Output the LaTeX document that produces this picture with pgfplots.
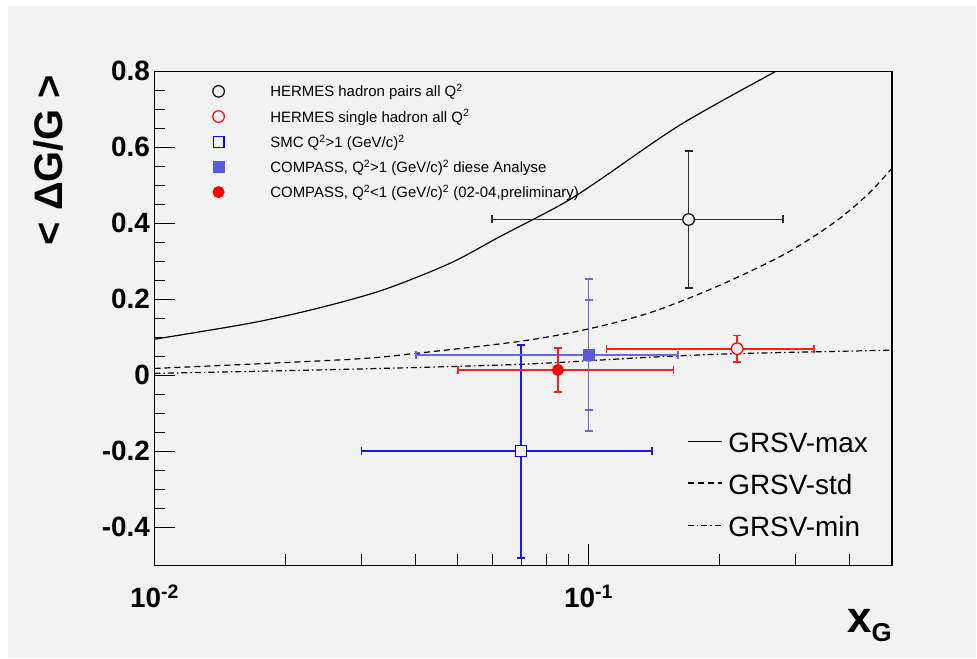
\documentclass[border=0pt]{standalone}
\usepackage{fontspec}
\setmainfont{Liberation Sans}
\usepackage{pgfplots}
\pgfplotsset{compat=1.18}
\definecolor{bggray}{RGB}{242,242,242}
\definecolor{hblack}{RGB}{45,45,45}
\definecolor{hred}{RGB}{255,30,30}
\definecolor{smcblue}{RGB}{25,25,235}
\definecolor{compblue}{RGB}{90,90,220}
\definecolor{compbar}{RGB}{105,105,228}

\pgfplotsset{
  myerr/.style={error bars/.cd, x dir=both, x explicit, y dir=both, y explicit,
    error bar style={line width=1.7bp},
    error mark options={rotate=90, line width=1.7bp, mark size=4bp}},
}

\pgfplotstableread{
x y
0.01 0.095
0.0166 0.137
0.0237 0.176
0.0337 0.225
0.048 0.295
0.0625 0.365
0.0867 0.450
0.1054 0.512
0.1626 0.659
0.269 0.799
0.35 0.87
}\grsvmax
\pgfplotstableread{
x y
0.01 0.018
0.0282 0.042
0.0402 0.058
0.0702 0.090
0.1 0.122
0.1387 0.165
0.197 0.233
0.281 0.317
0.366 0.400
0.438 0.474
0.5 0.545
}\grsvstd
\pgfplotstableread{
x y
0.01 0.005
0.0282 0.016
0.070 0.029
0.136 0.047
0.22 0.057
0.5 0.066
}\grsvmin

\begin{document}
\begin{tikzpicture}[x=1bp,y=1bp]
\fill[white] (0,0) rectangle (977,659);
\fill[bggray] (8,1) rectangle (976,653);
\begin{axis}[
  at={(154.5bp,93.7bp)}, anchor=south west, scale only axis,
  width=737.5bp, height=494bp,
  xmode=log, xmin=0.01, xmax=0.5, ymin=-0.5, ymax=0.8,
  axis line style={line width=1.3bp, black},
  tick align=inside, tick pos=left,
  major tick length=21bp, minor tick length=11bp,
  every tick/.style={black, line width=1.1bp},
  xtick={0.01,0.1},
  xticklabels={10\textsuperscript{-2},10\textsuperscript{-1}},
  minor xtick={0.02,0.03,0.04,0.05,0.06,0.07,0.08,0.09,0.2,0.3,0.4},
  ytick={-0.4,-0.2,0,0.2,0.4,0.6,0.8},
  yticklabels={-0.4,-0.2,0,0.2,0.4,0.6,0.8},
  minor y tick num=3,
  xticklabel style={font=\fontsize{28}{28}\selectfont\bfseries, yshift=-16bp},
  yticklabel style={font=\fontsize{28}{28}\selectfont\bfseries, xshift=-1bp},
  legend style={at={(0.722,0.273)}, anchor=north west, draw=none, fill=none,
    font=\fontsize{28}{28}\selectfont, row sep=16.5bp, inner sep=0pt,
    cells={anchor=west}},
  legend image code/.code={\draw[#1] (0bp,2bp) -- (34bp,2bp); \path (38bp,0bp);},
]
\addplot[black, line width=1.2bp, smooth] table {\grsvmax};
\addlegendentry{GRSV-max}
\addplot[black, line width=1.2bp, smooth, dash pattern=on 6bp off 4bp] table {\grsvstd};
\addlegendentry{GRSV-std}
\addplot[black, line width=1.2bp, smooth, dash pattern=on 6bp off 3bp on 1.5bp off 3bp] table {\grsvmin};
\addlegendentry{GRSV-min}
\end{axis}

\begin{axis}[
  at={(154.5bp,93.7bp)}, anchor=south west, scale only axis,
  width=737.5bp, height=494bp,
  xmode=log, xmin=0.01, xmax=0.5, ymin=-0.5, ymax=0.8,
  hide axis,
  legend style={at={(0.0788,0.978)}, anchor=north west, draw=none, fill=none,
    font=\fontsize{15}{17}\selectfont, row sep=7.2bp, column sep=44bp, inner sep=0pt,
    cells={anchor=west}},
]
% HERMES hadron pairs
\addplot[color=hblack, only marks, mark=*, mark size=5.8pt,
  mark options={draw=black, fill=bggray, line width=1.2bp}, myerr]
  table[x=x, y=y, x error plus=exp, x error minus=exm, y error plus=eyp, y error minus=eym] {
x y exm exp eym eyp
0.17 0.41 0.11 0.11 0.18 0.18
};
\addlegendentry{HERMES hadron pairs all Q\textsuperscript{2}}
% HERMES single hadron
\addplot[color=hred, only marks, mark=*, mark size=5.8pt,
  mark options={draw=red, fill=bggray, line width=1.2bp}, myerr]
  table[x=x, y=y, x error plus=exp, x error minus=exm, y error plus=eyp, y error minus=eym] {
x y exm exp eym eyp
0.22 0.07 0.11 0.11 0.035 0.035
};
\addlegendentry{HERMES single hadron all Q\textsuperscript{2}}
% SMC
\addplot[color=smcblue, only marks, mark=square*, mark size=5.5pt,
  mark options={draw=blue, fill=bggray, line width=1.2bp}, myerr]
  table[x=x, y=y, x error plus=exp, x error minus=exm, y error plus=eyp, y error minus=eym] {
x y exm exp eym eyp
0.07 -0.20 0.04 0.07 0.28 0.28
};
\addlegendentry{SMC Q\textsuperscript{2}>1 (GeV/c)\textsuperscript{2}}
% COMPASS Q2>1 statistical part
\addplot[color=compbar, only marks, mark=none, forget plot,
  error bars/.cd, y dir=both, y explicit,
  error bar style={line width=1.7bp},
  error mark options={rotate=90, line width=1.7bp, mark size=4bp}]
  table[x=x, y=y, y error plus=eyp, y error minus=eym] {
x y eym eyp
0.1 0.053 0.145 0.145
};
% COMPASS Q2>1
\addplot[color=compbar, only marks, mark=square*, mark size=5.5pt,
  mark options={draw=compblue, fill=compblue, line width=1bp}, myerr]
  table[x=x, y=y, x error plus=exp, x error minus=exm, y error plus=eyp, y error minus=eym] {
x y exm exp eym eyp
0.1 0.053 0.06 0.0605 0.20 0.20
};
\addlegendentry{COMPASS, Q\textsuperscript{2}>1 (GeV/c)\textsuperscript{2} diese Analyse}
% COMPASS Q2<1
\addplot[color=hred, only marks, mark=*, mark size=5.5pt,
  mark options={draw=red, fill=red, line width=1bp}, myerr]
  table[x=x, y=y, x error plus=exp, x error minus=exm, y error plus=eyp, y error minus=eym] {
x y exm exp eym eyp
0.085 0.014 0.035 0.072 0.058 0.058
};
\addlegendentry{COMPASS, Q\textsuperscript{2}<1 (GeV/c)\textsuperscript{2} (02-04,preliminary)}
\end{axis}

\node[rotate=90, font=\fontsize{40}{40}\selectfont\bfseries] at (48,499) {< ΔG/G >};
\node[anchor=base east, inner sep=0pt] at (892,26) {{\fontsize{44}{44}\selectfont\bfseries x}\raisebox{-9bp}{\fontsize{26}{26}\selectfont\bfseries G}};
\pgfresetboundingbox
\useasboundingbox (0,0) rectangle (977,659);
\end{tikzpicture}
\end{document}
